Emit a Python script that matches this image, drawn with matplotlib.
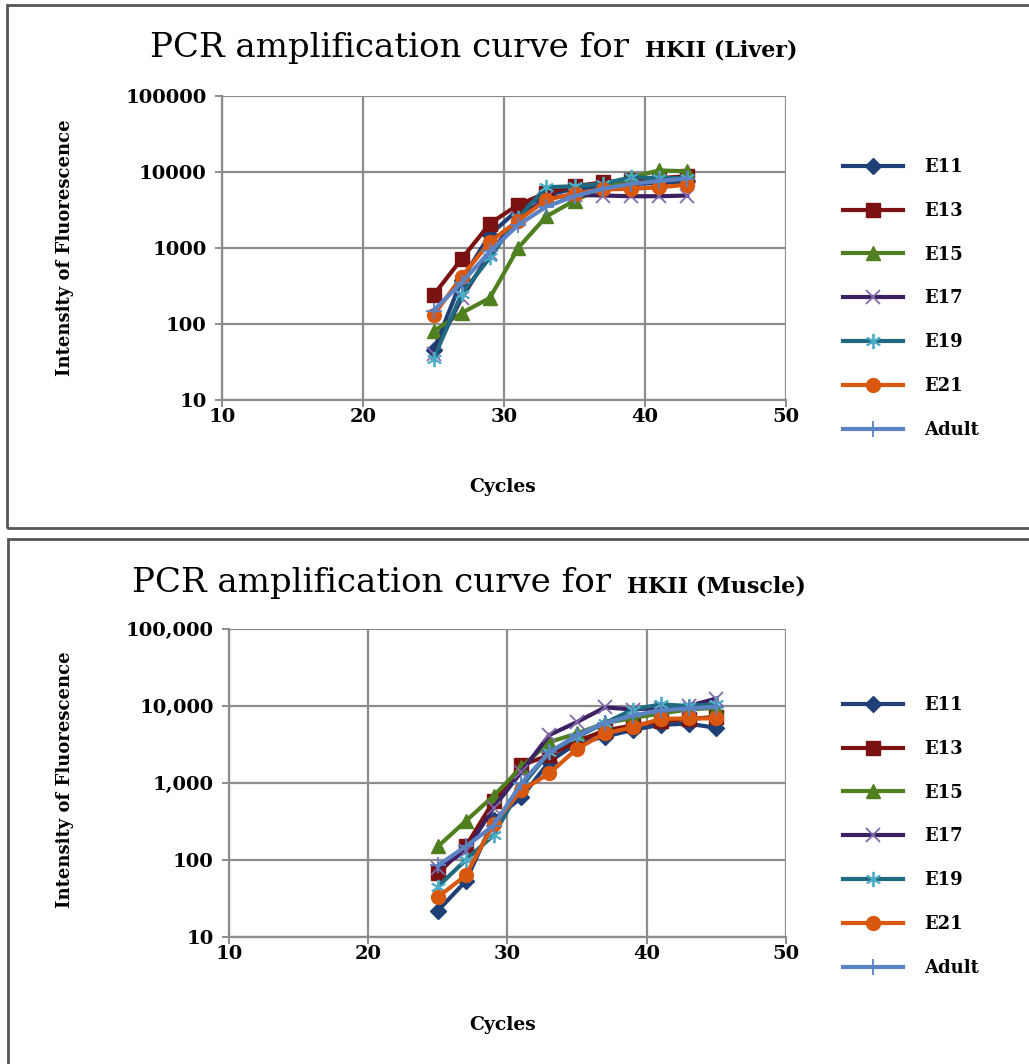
import matplotlib
matplotlib.use("Agg")
import matplotlib.pyplot as plt
from matplotlib.patches import Rectangle
from matplotlib.ticker import FixedLocator, FuncFormatter, NullLocator

# ---------------- data ----------------
series_names = ["E11", "E13", "E15", "E17", "E19", "E21", "Adult"]

liver_cycles = [25, 27, 29, 31, 33, 35, 37, 39, 41, 43]
liver_E11 = [45, 380, 1500, 3200, 5000, 6000, 6500, 6900, 7200, 7500]
liver_E13 = [240, 720, 2100, 3700, 5300, 6500, 7300, 7800, 8300, 8800]
liver_E15 = [80, 140, 220, 1000, 2600, 4200, 6200, 8500, 10500, 10200]
liver_E17 = [40, 220, 850, 2500, 4500, 5000, 4900, 4800, 4800, 4900]
liver_E19 = [35, 250, 750, 2500, 6300, 6500, 7000, 8500, 8300, 8300]
liver_E21 = [130, 420, 1200, 2300, 4300, 5200, 5900, 6000, 6300, 6800]
liver_Adult = [150, 350, 900, 2000, 3500, 4800, 6000, 7000, 7600, 8200]

muscle_cycles = [25, 27, 29, 31, 33, 35, 37, 39, 41, 43, 45]
muscle_E11 = [22, 53, 330, 650, 1900, 3300, 4000, 4900, 5700, 5900, 5200]
muscle_E13 = [67, 150, 580, 1700, 2300, 3500, 4800, 5600, 6300, 6800, 7200]
muscle_E15 = [150, 320, 680, 1600, 3400, 4400, 6000, 7000, 8000, 9000, 9500]
muscle_E17 = [78, 130, 480, 1400, 4200, 6200, 9600, 9000, 9500, 10000, 12500]
muscle_E19 = [45, 100, 210, 900, 2500, 4000, 6000, 9000, 10500, 10000, 10500]
muscle_E21 = [33, 63, 295, 800, 1330, 2800, 4400, 5300, 6800, 6900, 6900]
muscle_Adult = [85, 150, 280, 1000, 2500, 4200, 6000, 7500, 8800, 9300, 9800]

x_ticks = [10, 20, 30, 40, 50]
y_ticks = [10, 100, 1000, 10000, 100000]

liver_data = [liver_E11, liver_E13, liver_E15, liver_E17, liver_E19, liver_E21, liver_Adult]
muscle_data = [muscle_E11, muscle_E13, muscle_E15, muscle_E17, muscle_E19, muscle_E21, muscle_Adult]

# ---------------- styles ----------------
styles = [
    dict(color="#1F3F77", marker="D", mfc="#1F3F77", mec="#1F3F77", ms=8, mew=1),
    dict(color="#7B1212", marker="s", mfc="#7B1212", mec="#7B1212", ms=10, mew=1),
    dict(color="#4F7F1F", marker="^", mfc="#4F7F1F", mec="#4F7F1F", ms=10, mew=1),
    dict(color="#3B2062", marker="x", mfc="none", mec="#8468AC", ms=10, mew=1.3),
    dict(color="#1F6A80", marker=(6, 2, 0), mfc="none", mec="#4BACC6", ms=11, mew=1.3),
    dict(color="#D9580F", marker="o", mfc="#D9580F", mec="#D9580F", ms=10, mew=1),
    dict(color="#5B82C2", marker="+", mfc="none", mec="#5B82C2", ms=11, mew=1.3),
]

W, H = 1029, 1064
fig = plt.figure(figsize=(W / 100, H / 100), dpi=100)
fig.patch.set_facecolor("white")

SERIF = "DejaVu Serif"


def fbox(x0, y0, x1, y1):
    return [x0 / W, 1 - y1 / H, (x1 - x0) / W, (y1 - y0) / H]


# panel frames
fig.patches.append(Rectangle((7 / W, 1 - 528 / H), (1040 - 7) / W, (528 - 5) / H,
                             transform=fig.transFigure, fill=False, ec="#555555", lw=2))
fig.patches.append(Rectangle((8 / W, 1 - 1080 / H), (1040 - 8) / W, (1080 - 539) / H,
                             transform=fig.transFigure, fill=False, ec="#555555", lw=2))


def comma_fmt(v, pos):
    return f"{int(round(v)):,}"


def plain_fmt(v, pos):
    return f"{int(round(v))}"


def make_panel(box, cycles, data, fmt, title_main, title_bold, title_y, title_x0, title_x1,
               ylabel_y, xlabel_y, legend_top):
    ax = fig.add_axes(fbox(*box))
    for name, vals, st in zip(series_names, data, styles):
        ax.plot(cycles, vals, label=name, lw=3, zorder=3, **st)
    ax.set_yscale("log")
    ax.set_xlim(10, 50)
    ax.set_ylim(10, 100000)
    ax.xaxis.set_major_locator(FixedLocator(x_ticks))
    ax.yaxis.set_major_locator(FixedLocator(y_ticks))
    ax.yaxis.set_minor_locator(NullLocator())
    ax.yaxis.set_major_formatter(FuncFormatter(fmt))
    ax.grid(True, color="#8C8C8C", lw=1.6)
    for s in ["top", "right"]:
        ax.spines[s].set_visible(False)
    for s in ["left", "bottom"]:
        ax.spines[s].set_color("#8C8C8C")
        ax.spines[s].set_linewidth(1.6)
    ax.tick_params(axis="both", colors="#8C8C8C", length=5, width=1.4,
                   labelcolor="black")
    ax.tick_params(axis="x", pad=0.5)
    ax.tick_params(axis="y", pad=6)
    for lab in ax.get_xticklabels() + ax.get_yticklabels():
        lab.set_fontfamily(SERIF)
        lab.set_fontweight("bold")
        lab.set_fontsize(14)
    ax.set_axisbelow(True)

    fig.text(title_x0 / W, 1 - title_y / H, title_main, family=SERIF, fontsize=24.5,
             ha="left", va="baseline")
    fig.text(title_x1 / W, 1 - title_y / H, title_bold, family=SERIF, fontsize=16,
             fontweight="bold", ha="left", va="baseline")
    fig.text(65 / W, 1 - ylabel_y / H, "Intensity of Fluorescence", family=SERIF,
             fontsize=13, fontweight="bold", rotation=90, ha="center", va="center")
    fig.text(503 / W, 1 - xlabel_y / H, "Cycles", family=SERIF, fontsize=13.5,
             fontweight="bold", ha="center", va="center")

    fig.legend(*ax.get_legend_handles_labels(), loc="upper left",
               bbox_to_anchor=(843 / W, 1 - legend_top / H),
               bbox_transform=fig.transFigure, frameon=False, borderpad=0,
               borderaxespad=0, handlelength=3.3, handletextpad=1.2,
               labelspacing=1.43, prop=dict(family=SERIF, weight="bold", size=13))
    return ax


make_panel((222, 96, 786, 400), liver_cycles, liver_data, plain_fmt,
           "PCR amplification curve for", "HKII (Liver)", 57, 150, 645, 248, 487, 158)
make_panel((229, 629, 786, 937), muscle_cycles, muscle_data, comma_fmt,
           "PCR amplification curve for", "HKII (Muscle)", 592, 132, 627, 780, 1025, 696)

fig.savefig("out.png", dpi=100, facecolor="white")
